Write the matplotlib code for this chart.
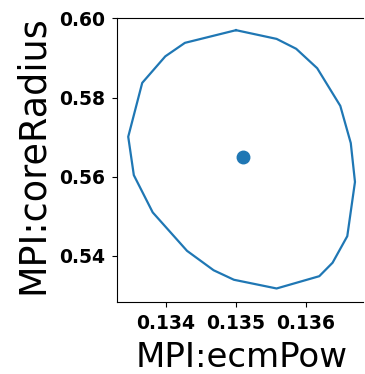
import matplotlib
matplotlib.use("Agg")
import matplotlib.pyplot as plt

# contour around the best-fit point (closed polygon)
contour_x = [0.13500, 0.13558, 0.13586, 0.13616, 0.13649, 0.13664, 0.13670,
             0.13659, 0.13638, 0.13619, 0.13558, 0.13497, 0.13468, 0.13430,
             0.13381, 0.13354, 0.13346, 0.13366, 0.13399, 0.13427, 0.13500]
contour_y = [0.5970, 0.5948, 0.5923, 0.5874, 0.5779, 0.5685, 0.5587,
             0.5450, 0.5383, 0.5349, 0.5318, 0.5340, 0.5364, 0.5413,
             0.5510, 0.5604, 0.5701, 0.5837, 0.5904, 0.5938, 0.5970]

# best-fit point
center_x = [0.13510]
center_y = [0.56506]

xticks = [0.134, 0.135, 0.136]
yticks = [0.54, 0.56, 0.58, 0.60]

fig = plt.figure(figsize=(3.65, 3.74), dpi=100)
ax = fig.add_axes([0.3214, 0.1933, 0.673, 0.7578])

ax.plot(contour_x, contour_y, color="#1f77b4", linewidth=1.6)
ax.plot(center_x, center_y, "o", color="#1f77b4", markersize=9)

ax.set_xlim(0.133304, 0.136814)
ax.set_ylim(0.52846, 0.6000)
ax.set_xticks(xticks)
ax.set_yticks(yticks)
ax.set_xticklabels([f"{t:.3f}" for t in xticks], fontsize=13.5, fontweight="bold")
ax.set_yticklabels([f"{t:.2f}" for t in yticks], fontsize=13.5, fontweight="bold")
ax.tick_params(pad=5)

ax.set_xlabel("MPI:ecmPow", fontsize=24.5)
ax.set_ylabel("MPI:coreRadius", fontsize=26.3)
ax.xaxis.set_label_coords(0.505, -0.1376)
ax.yaxis.set_label_coords(-0.270, 0.52)

ax.spines["right"].set_visible(False)

fig.savefig("out.png", dpi=100)
